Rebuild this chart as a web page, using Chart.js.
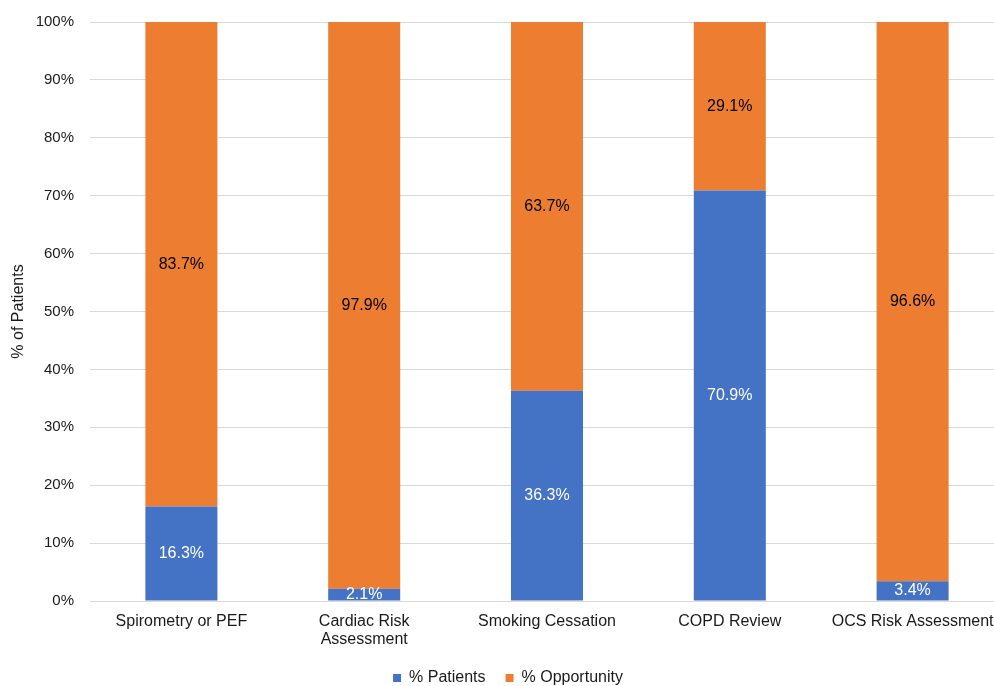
<!DOCTYPE html>
<html>
<head>
<meta charset="utf-8">
<script src="https://cdn.jsdelivr.net/npm/chart.js@4.4.0/dist/chart.umd.min.js"></script>
<style>
  html, body { margin: 0; padding: 0; background: #fff; overflow: hidden; }
  #wrap { width: 1004px; height: 686px; }
</style>
</head>
<body>
<div id="wrap"><canvas id="grafico"></canvas></div>
<script>
const categorias = ["Spirometry or PEF", ["Cardiac Risk", "Assessment"], "Smoking Cessation", "COPD Review", "OCS Risk Assessment"];
const pacientes = [16.3, 2.1, 36.3, 70.9, 3.4];
const oportunidad = [83.7, 97.9, 63.7, 29.1, 96.6];
const ticksY = [0, 10, 20, 30, 40, 50, 60, 70, 80, 90, 100];

const fuente = "'Liberation Sans', Arial, sans-serif";

// etiquetas de valor en el centro de cada segmento
const etiquetas = {
  id: "etiquetas",
  afterLayout(chart) {
    // subir un poco la leyenda y moverla a la derecha
    chart.legend.top -= 15;
    chart.legend.left += 6;
    chart.legend.right += 6;
  },
  afterDatasetsDraw(chart) {
    const ctx = chart.ctx;
    ctx.save();
    ctx.font = "16px " + fuente;
    ctx.textAlign = "center";
    ctx.textBaseline = "middle";
    chart.data.datasets.forEach((ds, i) => {
      const meta = chart.getDatasetMeta(i);
      meta.data.forEach((bar, j) => {
        const { x, y, base } = bar.getProps(["x", "y", "base"], true);
        ctx.fillStyle = i === 0 ? "#ffffff" : "#000000";
        ctx.fillText(ds.data[j].toFixed(1) + "%", x, (y + base) / 2);
      });
    });
    ctx.restore();
  }
};

new Chart(document.getElementById("grafico"), {
  type: "bar",
  data: {
    labels: categorias,
    datasets: [
      { label: "% Patients", data: pacientes, backgroundColor: "#4472C4" },
      { label: "% Opportunity", data: oportunidad, backgroundColor: "#ED7D31" }
    ]
  },
  options: {
    responsive: true,
    maintainAspectRatio: false,
    animation: false,
    devicePixelRatio: 1,
    categoryPercentage: 1,
    barPercentage: 0.394,
    layout: { padding: { top: 22, left: 0, right: 0, bottom: 0 } },
    scales: {
      x: {
        stacked: true,
        grid: { display: false },
        border: { color: "#d9d9d9", width: 1 },
        ticks: { color: "#1a1a1a", font: { family: fuente, size: 16, lineHeight: 1.15 }, padding: 3, maxRotation: 0, autoSkip: false },
        afterFit: s => { s.height = 64; }
      },
      y: {
        stacked: true,
        min: 0,
        max: 100,
        afterBuildTicks: s => { s.ticks = ticksY.map(v => ({ value: v })); },
        grid: { color: "#d9d9d9", drawTicks: false },
        border: { display: false },
        ticks: { color: "#1a1a1a", font: { family: fuente, size: 15 }, padding: 16, callback: v => v + "%" },
        title: { display: true, text: "% of Patients", color: "#1a1a1a", font: { family: fuente, size: 16 }, padding: { top: 9, bottom: 0 } },
        afterFit: s => { s.width = 90; s.paddingTop = 0; s.paddingBottom = 0; }
      }
    },
    plugins: {
      legend: {
        position: "bottom",
        maxHeight: 21,
        labels: { color: "#1a1a1a", font: { family: fuente, size: 16 }, boxWidth: 8, boxHeight: 8, padding: 20 }
      },
      tooltip: { enabled: false }
    }
  },
  plugins: [etiquetas]
});
</script>
</body>
</html>
